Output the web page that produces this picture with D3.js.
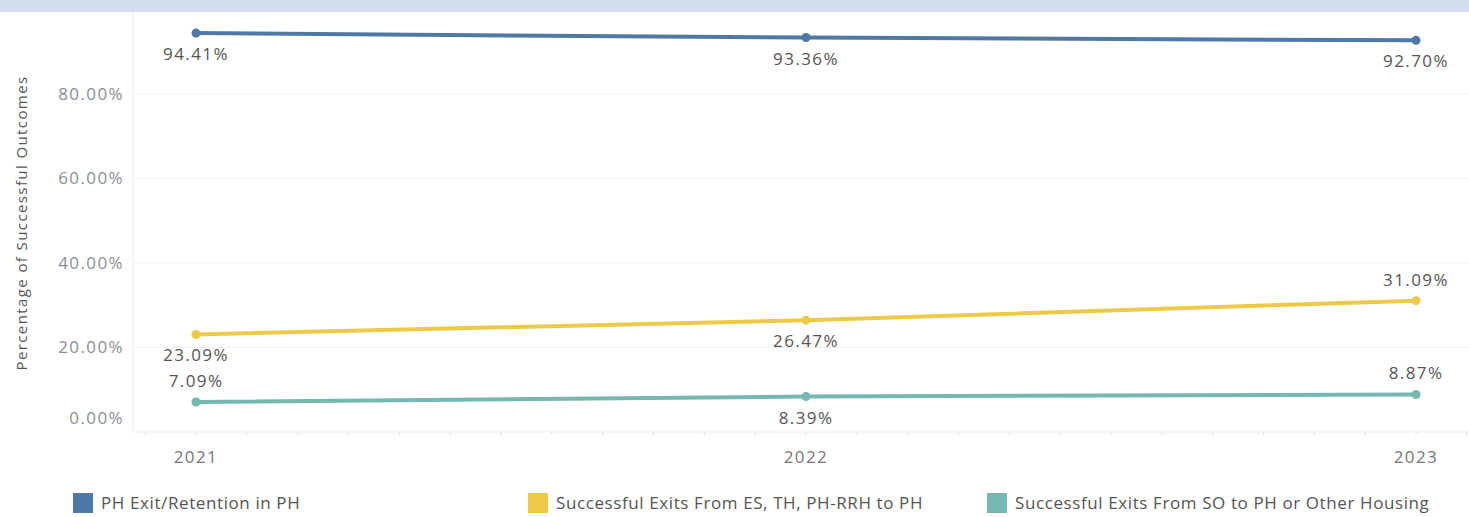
<!DOCTYPE html>
<html>
<head>
<meta charset="utf-8">
<script src="https://cdn.jsdelivr.net/npm/d3@7"></script>
<style>
  body { margin: 0; background: #fff; }
  svg { display: block; font-family: "Open Sans", sans-serif; }
</style>
</head>
<body>
<svg id="chart" width="1469" height="517"></svg>
<script>
var years = [2021, 2022, 2023];
var seriesNames = ["PH Exit/Retention in PH", "Successful Exits From ES, TH, PH-RRH to PH", "Successful Exits From SO to PH or Other Housing"];
var seriesColors = ["#4e79a7", "#edc948", "#76b7b2"];
var phRetention = [94.41, 93.36, 92.70];
var esThRrh = [23.09, 26.47, 31.09];
var soExits = [7.09, 8.39, 8.87];
// where the value label sits: 1 = below the point, -1 = above
var labelSide = [[1, 1, 1], [1, 1, -1], [-1, 1, -1]];
var yTicks = [0, 20, 40, 60, 80];

var svg = d3.select("#chart"),
    width = 1469, height = 517;

var plotLeft = 133, plotBottom = 432, plotTop = 12;

var x = d3.scaleLinear().domain([2021, 2023]).range([196, 1416]);
var y = d3.scaleLinear().domain([0, 80]).range([plotBottom, 94]);

// top band
svg.append("rect").attr("x", 0).attr("y", 0).attr("width", width).attr("height", plotTop).attr("fill", "#d4ddec");

// gridlines
svg.append("g").selectAll("line").data(yTicks.slice(1)).enter().append("line")
    .attr("x1", plotLeft).attr("x2", width)
    .attr("y1", function (d) { return y(d); }).attr("y2", function (d) { return y(d); })
    .attr("stroke", "#f0f0f0").attr("stroke-width", 1);

svg.append("line").attr("x1", plotLeft).attr("x2", plotLeft).attr("y1", plotTop).attr("y2", plotBottom)
    .attr("stroke", "#ececec");
svg.append("line").attr("x1", plotLeft).attr("x2", width).attr("y1", plotBottom).attr("y2", plotBottom)
    .attr("stroke", "#ececec");

// monthly ticks along the bottom
var months = d3.range(2020 + 10 / 12, 2023 + 3 / 12, 1 / 12).filter(function (m) { return x(m) > plotLeft && x(m) < width; });
svg.append("g").selectAll("line").data(months).enter().append("line")
    .attr("x1", function (d) { return x(d); }).attr("x2", function (d) { return x(d); })
    .attr("y1", plotBottom).attr("y2", plotBottom + 4)
    .attr("stroke", "#e6e6e6");

// y axis labels (0 is nudged up like the original)
svg.append("g").selectAll("text").data(yTicks).enter().append("text")
    .attr("x", 124)
    .attr("y", function (d) { return d === 0 ? y(d) - 14 : y(d); })
    .attr("dy", "0.35em")
    .attr("text-anchor", "end")
    .attr("font-size", 17)
    .attr("letter-spacing", 1.4)
    .attr("fill", "#8a8f96")
    .text(function (d) { return d3.format(".2f")(d) + "%"; });

svg.append("text")
    .attr("transform", "translate(27," + 223 + ") rotate(-90)")
    .attr("text-anchor", "middle")
    .attr("font-size", 15)
    .attr("letter-spacing", 1.4)
    .attr("fill", "#555")
    .text("Percentage of Successful Outcomes");

// x axis labels
svg.append("g").selectAll("text").data(years).enter().append("text")
    .attr("x", function (d) { return x(d); })
    .attr("y", 463)
    .attr("text-anchor", "middle")
    .attr("font-size", 17)
    .attr("letter-spacing", 1.4)
    .attr("fill", "#777")
    .text(function (d) { return d; });

var allSeries = [phRetention, esThRrh, soExits];
var line = d3.line()
    .x(function (d, i) { return x(years[i]); })
    .y(function (d) { return y(d); });

allSeries.forEach(function (values, s) {
    var g = svg.append("g");
    g.append("path").datum(values)
        .attr("d", line)
        .attr("fill", "none")
        .attr("stroke", seriesColors[s])
        .attr("stroke-width", 4);
    g.selectAll("circle").data(values).enter().append("circle")
        .attr("cx", function (d, i) { return x(years[i]); })
        .attr("cy", function (d) { return y(d); })
        .attr("r", 4.5)
        .attr("fill", seriesColors[s]);
    g.selectAll("text").data(values).enter().append("text")
        .attr("x", function (d, i) { return x(years[i]); })
        .attr("y", function (d, i) { return y(d) + labelSide[s][i] * 21; })
        .attr("dy", "0.35em")
        .attr("text-anchor", "middle")
        .attr("font-size", 17)
        .attr("letter-spacing", 1.4)
        .attr("fill", "#555")
        .text(function (d) { return d.toFixed(2) + "%"; });
});

// legend
var legendX = [73, 528, 987];
var legend = svg.append("g").selectAll("g").data(seriesNames).enter().append("g")
    .attr("transform", function (d, i) { return "translate(" + legendX[i] + ",493)"; });
legend.append("rect").attr("width", 20).attr("height", 20)
    .attr("fill", function (d, i) { return seriesColors[i]; });
legend.append("text").attr("x", 28).attr("y", 10).attr("dy", "0.35em")
    .attr("font-size", 17).attr("letter-spacing", 0.6).attr("fill", "#555")
    .text(function (d) { return d; });
</script>
</body>
</html>
